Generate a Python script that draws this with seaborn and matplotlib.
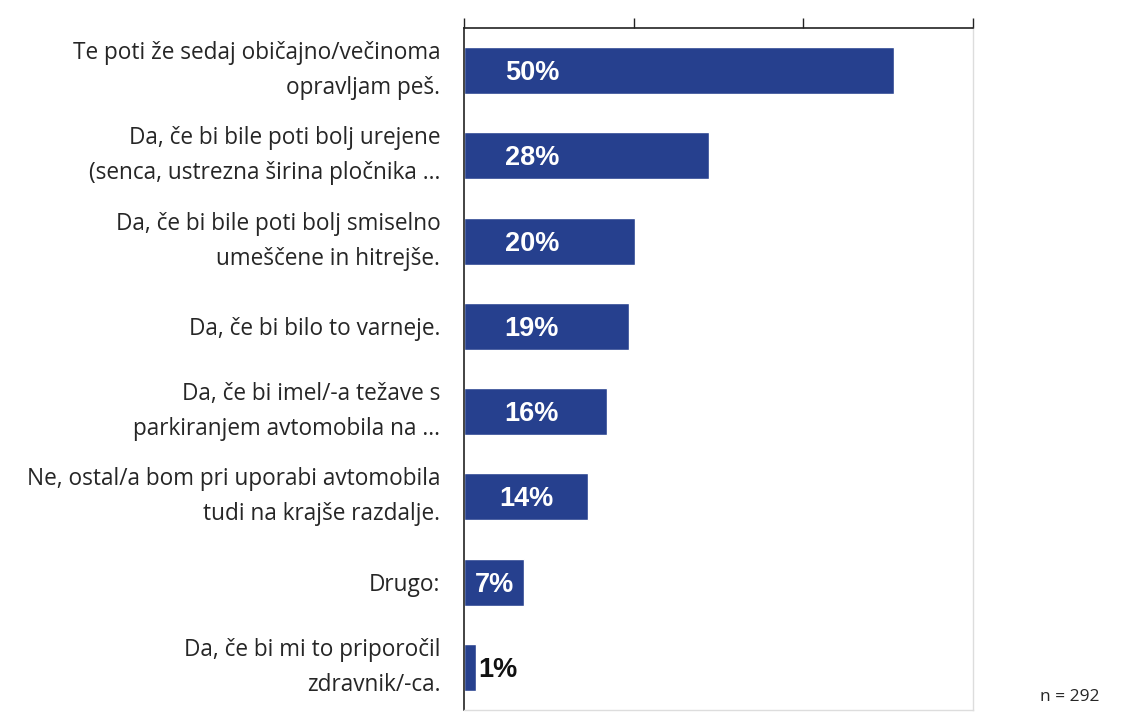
import matplotlib
matplotlib.use("Agg")
import matplotlib.pyplot as plt
import seaborn as sns
import pandas as pd

# --- DATA ---
options = [
    "Te poti že sedaj običajno/večinoma\nopravljam peš.",
    "Da, če bi bile poti bolj urejene\n(senca, ustrezna širina pločnika ...",
    "Da, če bi bile poti bolj smiselno\numeščene in hitrejše.",
    "Da, če bi bilo to varneje.",
    "Da, če bi imel/-a težave s\nparkiranjem avtomobila na ...",
    "Ne, ostal/a bom pri uporabi avtomobila\ntudi na krajše razdalje.",
    "Drugo:",
    "Da, če bi mi to priporočil\nzdravnik/-ca.",
]
shares = [50.7, 28.9, 20.2, 19.5, 16.9, 14.6, 7.1, 1.4]
share_labels = ["50%", "28%", "20%", "19%", "16%", "14%", "7%", "1%"]
x_ticks = [0, 20, 40, 60]
sample_note = "n = 292"

df = pd.DataFrame({"option": options, "share": shares})

bar_color = "#26408E"
text_color = "#262626"

sns.set_style("white")
plt.rcParams["font.family"] = ["Open Sans", "DejaVu Sans"]

fig = plt.figure(figsize=(11.38, 7.13), dpi=100)
ax = fig.add_axes([0.4077, 0.0042, 0.4473, 0.9565])

sns.barplot(data=df, x="share", y="option", orient="h", color=bar_color,
            saturation=1, width=0.55, ax=ax)

ax.set_xlim(0, 60)
ax.set_ylim(7.5, -0.5)
ax.set_xlabel("")
ax.set_ylabel("")

# ticks on top, no labels
ax.xaxis.tick_top()
ax.set_xticks(x_ticks)
ax.set_xticklabels([])
ax.tick_params(axis="x", direction="out", length=7, width=1, color="#222222")
ax.tick_params(axis="y", direction="out", length=7, width=1, color="#222222",
               pad=10, labelsize=16.3, labelcolor=text_color)
for t in ax.get_yticklabels():
    t.set_linespacing(1.6)
    if "\n" in t.get_text():
        t.set_va("center")

for side in ["top", "left"]:
    ax.spines[side].set_color("#222222")
    ax.spines[side].set_linewidth(1.2)
for side in ["right", "bottom"]:
    ax.spines[side].set_color("#dddddd")
    ax.spines[side].set_linewidth(1)

# value labels
for i, (v, lab) in enumerate(zip(shares, share_labels)):
    if v < 3:
        ax.text(v + 0.3, i + 0.03, lab, ha="left", va="center", color="#111111",
                fontsize=19.5, fontweight="bold", family="Liberation Sans")
    else:
        ax.text(min(v / 2, 8), i + 0.03, lab, ha="center", va="center", color="white",
                fontsize=19.5, fontweight="bold", family="Liberation Sans")

fig.text(1070 / 1138, 1 - 697 / 713, sample_note, ha="center", va="center",
         fontsize=12.5, color=text_color)

fig.savefig("out.png", dpi=100, facecolor="white")
